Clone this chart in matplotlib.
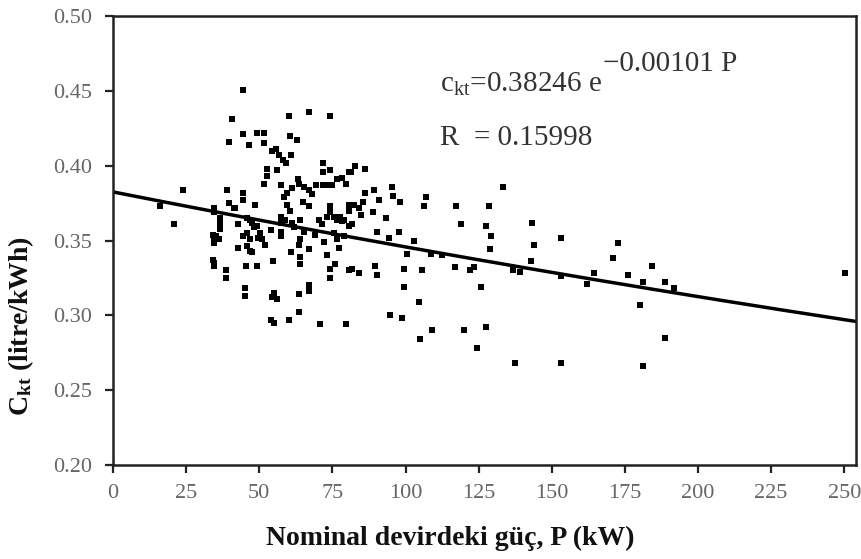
import numpy as np
import matplotlib
matplotlib.use("Agg")
import matplotlib.pyplot as plt

power_kw = [
    44.6, 40.6, 60.3, 66.9, 74.1, 39.6, 44.3, 46.5, 49.2, 51.7, 51.7, 60.6, 62.9, 61.0,
    54.4, 55.7, 56.9, 58.1, 59.1, 52.6, 56.1, 52.6, 51.7, 57.5, 71.8, 71.8, 74.3, 80.6,
    63.1, 69.5, 71.8, 73.2, 74.7, 76.6, 78.3, 79.8, 59.5, 61.2, 63.5, 65.2, 66.9, 68.0,
    58.3, 59.5, 60.6, 64.8, 67.1, 24.1, 15.9, 20.7, 38.9, 44.3, 44.3, 39.5, 41.2, 34.4,
    34.6, 48.6, 36.6, 36.6, 36.6, 34.1, 35.3, 34.4, 36.1, 34.6, 42.6, 45.8, 47.5, 48.1,
    49.2, 45.8, 44.6, 46.9, 50.3, 51.1, 49.4, 51.8, 54.0, 57.4, 57.4, 57.4, 57.4, 58.9,
    61.2, 61.8, 64.0, 65.2, 64.0, 63.5, 69.2, 70.3, 71.5, 74.3, 74.3, 73.2, 75.5, 76.6,
    77.7, 78.9, 80.6, 75.5, 76.6, 77.2, 72.3, 42.6, 45.8, 46.9, 47.5, 54.7, 61.0, 63.8,
    63.8, 66.9, 73.2, 76.0, 74.1, 74.1, 80.7, 34.2, 34.4, 34.6, 45.3, 49.2, 38.5, 38.5,
    45.2, 45.2, 54.9, 54.4, 56.1, 63.7, 66.9, 66.9, 54.0, 54.9, 60.3, 63.5, 70.9, 79.8,
    80.6, 46.9, 41.8,
    82.9, 81.2, 86.3, 86.3, 89.2, 90.9, 95.4, 95.8, 98.1, 106.9, 106.3, 117.1, 128.5,
    133.4, 80.8, 82.5, 84.0, 85.5, 84.9, 88.9, 78.3, 81.7, 93.2, 118.8, 127.6, 143.4,
    90.1, 97.7, 78.9, 94.3, 102.8, 129.3, 153.3, 143.9, 128.8, 100.6, 108.6, 112.6,
    142.8, 81.7, 84.0, 89.7, 90.1, 99.4, 105.7, 116.8, 122.0, 123.4, 136.9, 139.1,
    153.3, 164.3, 162.0, 99.4, 125.9, 104.6, 94.6, 98.9, 109.1, 104.9, 120.0, 127.6,
    124.5, 137.3, 153.3,
    172.5, 170.8, 184.3, 175.9, 181.1, 188.8, 191.9, 180.3, 188.8, 181.1, 250.1,
]
ckt = [
    0.4505, 0.431, 0.433, 0.436, 0.433, 0.416, 0.421, 0.414, 0.422, 0.422, 0.415, 0.420, 0.417, 0.407,
    0.410, 0.411, 0.407, 0.404, 0.402, 0.398, 0.397, 0.393, 0.388, 0.387, 0.402, 0.396, 0.397, 0.396,
    0.391, 0.387, 0.387, 0.387, 0.387, 0.391, 0.392, 0.388, 0.382, 0.385, 0.388, 0.386, 0.384, 0.381,
    0.379, 0.374, 0.370, 0.376, 0.373, 0.384, 0.373, 0.361, 0.384, 0.382, 0.377, 0.375, 0.372, 0.372,
    0.369, 0.374, 0.365, 0.361, 0.358, 0.354, 0.353, 0.351, 0.351, 0.348, 0.361, 0.365, 0.362, 0.359,
    0.360, 0.355, 0.353, 0.351, 0.355, 0.351, 0.352, 0.347, 0.357, 0.366, 0.362, 0.356, 0.353, 0.364,
    0.362, 0.359, 0.364, 0.356, 0.351, 0.347, 0.354, 0.364, 0.361, 0.373, 0.369, 0.366, 0.366, 0.364,
    0.366, 0.364, 0.360, 0.355, 0.351, 0.345, 0.349, 0.345, 0.346, 0.343, 0.342, 0.336, 0.342, 0.339,
    0.334, 0.344, 0.340, 0.334, 0.331, 0.325, 0.330, 0.337, 0.335, 0.333, 0.333, 0.333, 0.330, 0.325,
    0.318, 0.313, 0.315, 0.312, 0.311, 0.314, 0.320, 0.316, 0.297, 0.295, 0.297, 0.302, 0.294, 0.294,
    0.374, 0.364, 0.372,
    0.400, 0.396, 0.398, 0.382, 0.384, 0.377, 0.386, 0.380, 0.376, 0.379, 0.373, 0.373, 0.373,
    0.386, 0.370, 0.374, 0.372, 0.376, 0.367, 0.369, 0.363, 0.361, 0.365, 0.361, 0.360, 0.362,
    0.356, 0.356, 0.353, 0.352, 0.350, 0.353, 0.352, 0.347, 0.344, 0.341, 0.341, 0.340,
    0.336, 0.331, 0.328, 0.333, 0.327, 0.331, 0.330, 0.332, 0.330, 0.332, 0.330, 0.329,
    0.326, 0.328, 0.321, 0.319, 0.319, 0.309, 0.300, 0.298, 0.290, 0.284, 0.290, 0.292,
    0.278, 0.268, 0.268,
    0.348, 0.338, 0.333, 0.327, 0.322, 0.322, 0.318, 0.307, 0.285, 0.266, 0.328,
]

fit_a = 0.38246
fit_b = -0.00101
x_ticks = [0, 25, 50, 75, 100, 125, 150, 175, 200, 225, 250]
y_ticks = [0.20, 0.25, 0.30, 0.35, 0.40, 0.45, 0.50]

plt.rcParams['font.family'] = ['Liberation Serif', 'DejaVu Serif']
plt.rcParams['mathtext.fontset'] = 'custom'
plt.rcParams['mathtext.rm'] = 'Liberation Serif'
plt.rcParams['mathtext.it'] = 'Liberation Serif:italic'
plt.rcParams['mathtext.bf'] = 'Liberation Serif:bold'

W, H = 862, 559
fig = plt.figure(figsize=(W / 100, H / 100), dpi=100)
ax = fig.add_axes([113 / W, (H - 465) / H, (856 - 113) / W, (465 - 16) / H])

ax.scatter(power_kw, ckt, marker='s', s=13, color='black', linewidths=0, zorder=3)

xs = np.linspace(0, 254, 200)
ax.plot(xs, fit_a * np.exp(fit_b * xs), color='black', lw=2.5, zorder=2)

ax.set_xlim(0, 254)
ax.set_ylim(0.20, 0.50)
ax.set_xticks(x_ticks)
ax.set_yticks(y_ticks)
ax.set_yticklabels([f"{v:.2f}" for v in y_ticks])
ax.tick_params(direction='out', length=6, width=1.6, labelsize=16, colors='#222222',
               labelcolor='#666666')
ax.tick_params(axis='x', pad=8)
ax.tick_params(axis='y', pad=9)
for sp in ax.spines.values():
    sp.set_linewidth(1.8)
    sp.set_color('#222222')

ax.set_xlabel("Nominal devirdeki güç, P (kW)", fontsize=20, fontweight='bold', color='#111111')
ax.xaxis.set_label_coords(0.454, -0.135)
ax.set_ylabel(r"C$_{\mathbf{kt}}$ (litre/kWh)", fontsize=20, fontweight='bold', color='#111111')
ax.yaxis.set_label_coords(-0.103, 0.31)

def fx(px):
    return px / W

def fy(py):
    return 1 - py / H

fig.text(fx(440), fy(92), r"c$_{\mathrm{kt}}$=0.38246 e", fontsize=21, color='#333333',
         va='baseline', ha='left')
fig.text(fx(603), fy(71), "\u22120.00101 P", fontsize=21, color='#333333',
         va='baseline', ha='left')
fig.text(fx(440), fy(145), "R  = 0.15998", fontsize=21, color='#333333',
         va='baseline', ha='left')

fig.savefig("out.png", dpi=100)
